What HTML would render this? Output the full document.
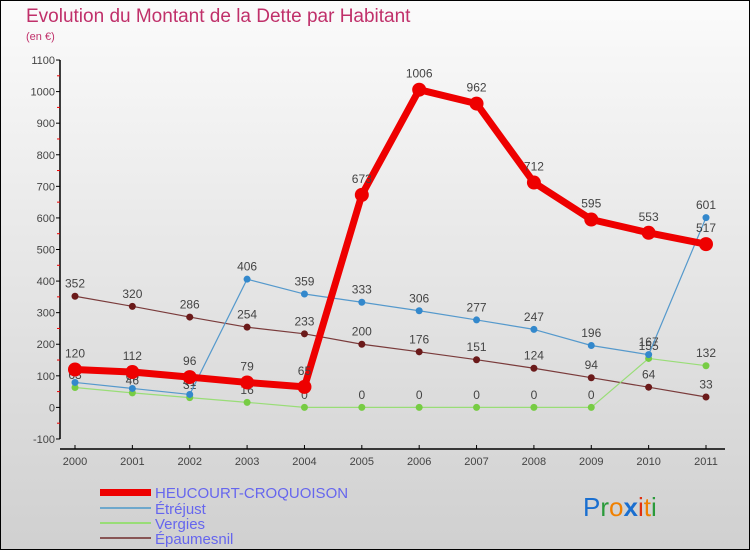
<!DOCTYPE html>
<html><head><meta charset="utf-8"><style>
body{margin:0;width:750px;height:550px;overflow:hidden;font-family:"Liberation Sans",sans-serif}
svg text{font-family:"Liberation Sans",sans-serif}
</style></head><body>
<svg id="c" width="750" height="550" xmlns="http://www.w3.org/2000/svg">
<defs><linearGradient id="bg" x1="0" y1="0" x2="0" y2="1"><stop offset="0" stop-color="#fbfbfb"/><stop offset="1" stop-color="#d0d0d0"/></linearGradient></defs>
<rect x="0.5" y="0.5" width="749" height="549" fill="url(#bg)" stroke="#000"/>
<text x="26" y="22" font-size="19" fill="#c0306a">Evolution du Montant de la Dette par Habitant</text>
<text x="26" y="40" font-size="11" fill="#c0306a">(en €)</text>
<g id="axes"></g><g id="series"></g>
<g>
<rect x="100" y="489" width="51" height="7" fill="#e00"/>
<text x="155" y="498" font-size="15" fill="#6666ee">HEUCOURT-CROQUOISON</text>
<line x1="100" y1="508" x2="151" y2="508" stroke="#6ea8cc" stroke-width="2"/>
<text x="155" y="514" font-size="15" fill="#6666ee">Étréjust</text>
<line x1="100" y1="523" x2="151" y2="523" stroke="#99dd77" stroke-width="2"/>
<text x="155" y="529" font-size="15" fill="#6666ee">Vergies</text>
<line x1="100" y1="538" x2="151" y2="538" stroke="#885555" stroke-width="2"/>
<text x="155" y="544" font-size="15" fill="#6666ee">Épaumesnil</text>
</g>
<g font-size="26" font-family="Liberation Sans">
<text x="583" y="516"><tspan fill="#1a6fd0">P</tspan><tspan fill="#2a9a3a">r</tspan><tspan fill="#f08000">o</tspan><tspan fill="#1a6fd0" font-weight="bold">x</tspan><tspan fill="#e03010">i</tspan><tspan fill="#f08000">t</tspan><tspan fill="#2a9a3a">i</tspan></text>
</g>
</svg>
<script>
const years=[2000,2001,2002,2003,2004,2005,2006,2007,2008,2009,2010,2011];
const yTicks=[-100,0,100,200,300,400,500,600,700,800,900,1000,1100];
const heucourt=[120,112,96,79,65,673,1006,962,712,595,553,517];
const etrejust=[79,60,41,406,359,333,306,277,247,196,167,601];
const vergies=[63,46,31,16,0,0,0,0,0,0,155,132];
const epaumesnil=[352,320,286,254,233,200,176,151,124,94,64,33];
const NS="http://www.w3.org/2000/svg";
function X(i){return 75+i*(631/11);}
function Y(v){return 407.4-v*0.3158;}
function mk(tag,attrs,parent){const e=document.createElementNS(NS,tag);for(const k in attrs)e.setAttribute(k,attrs[k]);parent.appendChild(e);return e;}
const ax=document.getElementById('axes'),sr=document.getElementById('series');
const ya=mk('line',{x1:60,y1:Y(1100),x2:60,y2:Y(-100),stroke:'#000','stroke-width':1.5},ax);


yTicks.forEach(t=>{
 mk('line',{x1:56,x2:60,y1:Y(t),y2:Y(t),stroke:'#000'},ax);
 if(t<1100)mk('line',{x1:57,x2:60,y1:Y(t+50),y2:Y(t+50),stroke:'#e00'},ax);
 const tx=mk('text',{x:55,y:Y(t)+4,'font-size':11,fill:'#444','text-anchor':'end'},ax);tx.textContent=t;
 
 
});
const xa=mk('line',{x1:60,y1:449,x2:725,y2:449,stroke:'#000','stroke-width':1.5},ax);


years.forEach((y,i)=>{
 mk('line',{x1:X(i),x2:X(i),y1:445,y2:449,stroke:'#000'},ax);
 const tx=mk('text',{x:X(i),y:465,'font-size':11,fill:'#444','text-anchor':'middle'},ax);tx.textContent=y;
 
 
});
function series(vals,name,color,dot,w,r){
 const g=mk('g',{},sr);
 
 
 const pts=vals.map((v,i)=>X(i)+','+Y(v)).join(' ');
 const l=mk('polyline',{points:pts,fill:'none',stroke:color,'stroke-width':w,'stroke-linejoin':'round'},g);
 
 
 vals.forEach((v,i)=>{
  const c=mk('circle',{cx:X(i),cy:Y(v),r:r,fill:dot},g);
  
  
  const t=mk('text',{x:X(i),y:Y(v)-(r+5),'font-size':12,fill:'#444','text-anchor':'middle'},g);t.textContent=v;
  
  
 });
}
series(epaumesnil,'epaumesnil','#7a3b3b','#6b1a1a',1.2,3.5);
series(vergies,'vergies','#99dd77','#77cc44',1.2,3.5);
series(etrejust,'etrejust','#5599cc','#3388cc',1.2,3.5);
series(heucourt,'heucourt','#ee0000','#ee0000',7,7);
</script>
</body></html>
